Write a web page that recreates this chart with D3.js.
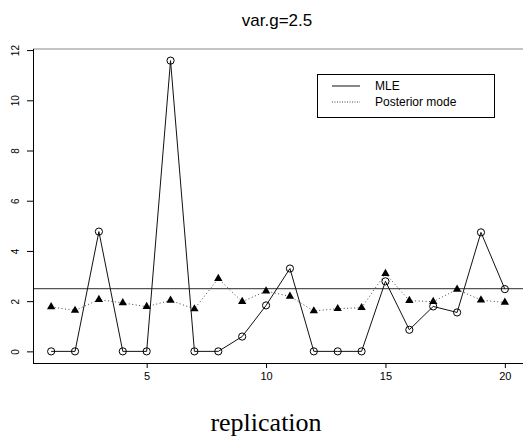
<!DOCTYPE html>
<html>
<head>
<meta charset="utf-8">
<script src="https://cdn.jsdelivr.net/npm/d3@7"></script>
<style>
  html, body { margin: 0; padding: 0; background: #fff; }
  svg { display: block; }
</style>
</head>
<body>
<svg id="chart" width="524" height="442"></svg>
<script>
const replication = d3.range(1, 21);
const mle = [0, 0, 4.77, 0, 0, 11.58, 0, 0, 0.59, 1.83, 3.30, 0, 0, 0, 2.79, 0.86, 1.79, 1.55, 4.74, 2.48];
const posteriorMode = [1.77, 1.63, 2.06, 1.93, 1.78, 2.03, 1.69, 2.90, 1.98, 2.40, 2.19, 1.61, 1.70, 1.74, 3.10, 2.02, 1.98, 2.47, 2.04, 1.95];
const xTicks = [5, 10, 15, 20];
const yTicks = [0, 2, 4, 6, 8, 10, 12];
const refValue = 2.5;
const titleText = "var.g=2.5";
const xLabel = "replication";
const legendLabels = ["MLE", "Posterior mode"];

const svg = d3.select("#chart");
const pLeft = 33, pRight = 523, pTop = 49, pBottom = 363;

// R-style 4% axis expansion
const xMin = d3.min(replication), xMax = d3.max(replication);
const xPad = (xMax - xMin) * 0.04;
const allY = mle.concat(posteriorMode);
const yMin = d3.min(allY), yMax = d3.max(allY);
const yPad = (yMax - yMin) * 0.04;

const x = d3.scaleLinear().domain([xMin - xPad, xMax + xPad]).range([pLeft, pRight]);
const y = d3.scaleLinear().domain([yMin - yPad, yMax + yPad]).range([pBottom, pTop]);

// box top (gray)
svg.append("line").attr("x1", pLeft).attr("x2", pRight).attr("y1", pTop).attr("y2", pTop)
  .attr("stroke", "#8a8a8a").attr("stroke-width", 1.2);

// reference line
svg.append("line").attr("x1", pLeft).attr("x2", pRight)
  .attr("y1", y(refValue)).attr("y2", y(refValue))
  .attr("stroke", "#555").attr("stroke-width", 1.2);

// x axis
const xAxis = d3.axisBottom(x).tickValues(xTicks).tickSize(5).tickPadding(4).tickFormat(d3.format("d"));
const gx = svg.append("g").attr("transform", `translate(0,${pBottom})`).call(xAxis);
gx.select(".domain").attr("d", `M${pLeft},0.5H${pRight}`).attr("stroke", "#000");
gx.selectAll("text").attr("font-family", "Arial, 'Liberation Sans', sans-serif").attr("font-size", 11).attr("fill", "#000");
gx.selectAll(".tick line").attr("stroke", "#000");

// y axis
const yAxis = d3.axisLeft(y).tickValues(yTicks).tickSize(6).tickFormat(d3.format("d"));
const gy = svg.append("g").attr("transform", `translate(${pLeft},0)`).call(yAxis);
gy.select(".domain").attr("d", `M0.5,${pTop}V${pBottom}`).attr("stroke", "#000");
gy.selectAll(".tick line").attr("stroke", "#000");
gy.selectAll(".tick text")
  .attr("font-family", "Arial, 'Liberation Sans', sans-serif").attr("font-size", 10).attr("fill", "#000")
  .attr("text-anchor", "middle").attr("dy", null).attr("x", null)
  .attr("transform", "translate(-18,0) rotate(-90)")
  .attr("dominant-baseline", "central");

// lines
const lineGen = vals => d3.line().x((d, i) => x(replication[i])).y(d => y(d))(vals);
svg.append("path").attr("d", lineGen(posteriorMode)).attr("fill", "none")
  .attr("stroke", "#444").attr("stroke-width", 1).attr("stroke-dasharray", "1,2.5");
svg.append("path").attr("d", lineGen(mle)).attr("fill", "none")
  .attr("stroke", "#111").attr("stroke-width", 1);

// points
svg.selectAll("circle.mle").data(mle).enter().append("circle")
  .attr("class", "mle")
  .attr("cx", (d, i) => x(replication[i])).attr("cy", d => y(d)).attr("r", 3.6)
  .attr("fill", "none").attr("stroke", "#000").attr("stroke-width", 1);
const tri = d3.symbol().type(d3.symbolTriangle).size(30);
svg.selectAll("path.pm").data(posteriorMode).enter().append("path")
  .attr("class", "pm").attr("d", tri)
  .attr("transform", (d, i) => `translate(${x(replication[i])},${y(d)})`)
  .attr("fill", "#000");

// title
svg.append("text").attr("x", 277).attr("y", 26).attr("text-anchor", "middle")
  .attr("font-family", "Arial, 'Liberation Sans', sans-serif").attr("font-size", 17)
  .text(titleText);

// x label
svg.append("text").attr("x", 266).attr("y", 431).attr("text-anchor", "middle")
  .attr("font-family", "'Liberation Serif', 'Times New Roman', serif").attr("font-size", 26)
  .text(xLabel);

// legend
const lg = svg.append("g");
lg.append("rect").attr("x", 317.5).attr("y", 74.5).attr("width", 177).attr("height", 43)
  .attr("fill", "#fff").attr("stroke", "#000").attr("stroke-width", 1);
lg.append("line").attr("x1", 332).attr("x2", 360).attr("y1", 86).attr("y2", 86)
  .attr("stroke", "#111").attr("stroke-width", 1);
lg.append("line").attr("x1", 332).attr("x2", 360).attr("y1", 102).attr("y2", 102)
  .attr("stroke", "#444").attr("stroke-width", 1).attr("stroke-dasharray", "1,1.5");
lg.selectAll("text.lgt").data(legendLabels).enter().append("text")
  .attr("class", "lgt").attr("x", 375).attr("y", (d, i) => 90 + i * 16)
  .attr("font-family", "Arial, 'Liberation Sans', sans-serif").attr("font-size", 12)
  .text(d => d);
</script>
</body>
</html>
